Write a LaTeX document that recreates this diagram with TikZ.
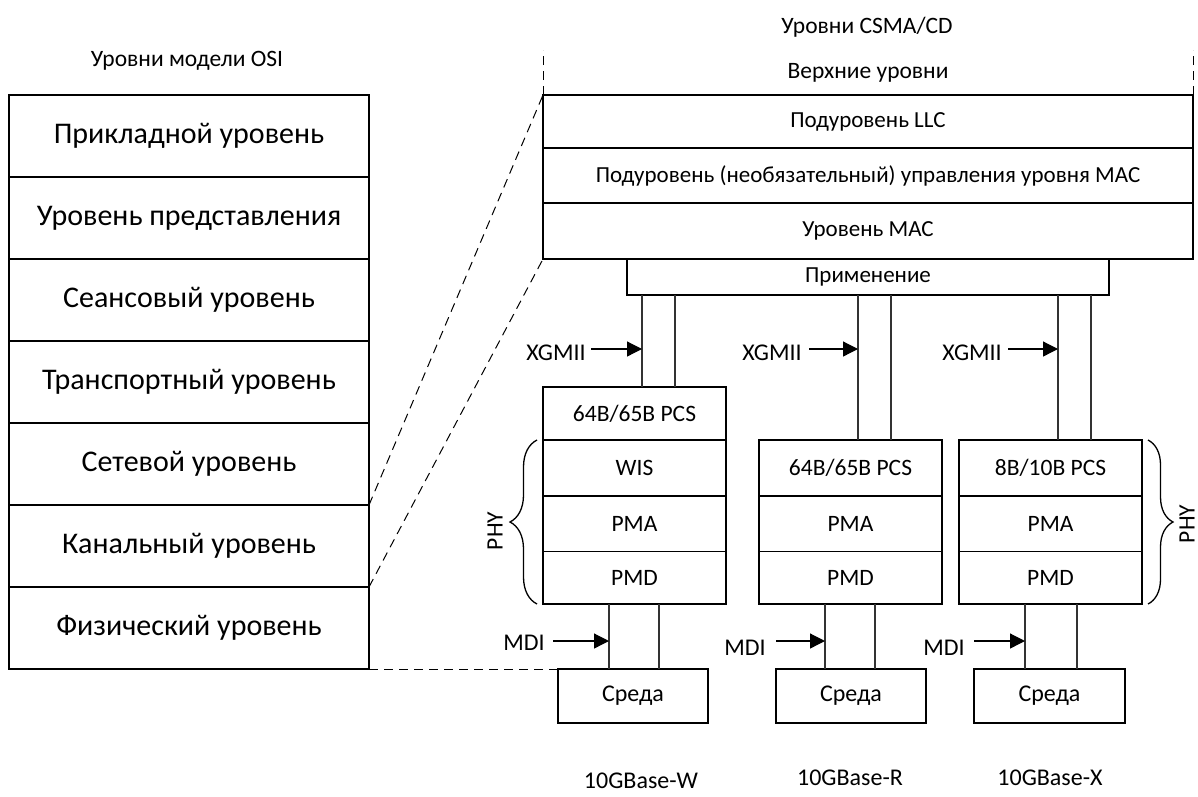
\documentclass[tikz,border=0pt]{standalone}
\usepackage{fontspec}
\setmainfont{Carlito}
\usetikzlibrary{arrows.meta,decorations.pathreplacing}
\begin{document}
\begin{tikzpicture}[x=1pt,y=-1pt,
  box/.style={draw, line width=1.2pt, inner sep=0pt, outer sep=0pt, align=center},
  osi/.style={box, minimum width=360pt, minimum height=82pt, font=\fontsize{30}{34}\selectfont},
  wide/.style={box, font=\fontsize{23}{27}\selectfont},
  blk/.style={box, minimum width=183pt, font=\fontsize{23.5}{27}\selectfont},
  media/.style={box, minimum width=150pt, minimum height=54pt, font=\fontsize{24}{28}\selectfont},
  lbl/.style={inner sep=0pt, font=\fontsize{24}{28}\selectfont},
  title/.style={inner sep=0pt, font=\fontsize{23.5}{27}\selectfont},
  wire/.style={line width=1.2pt, black!80},
  guide/.style={line width=1pt, dash pattern=on 9pt off 6pt},
  iface/.style={line width=1.2pt, -{Triangle[length=15pt,width=15pt]}},
  phybrace/.style={line width=1.3pt, decorate, decoration={brace, amplitude=#1}}
]
\useasboundingbox (0,0) rectangle (1198,796);

% OSI reference model
\node[title] (osititle) at (187,61) {Уровни модели OSI};
\node[osi] (app)  at (189,136) {Прикладной уровень};
\node[osi] (pres) at (189,218) {Уровень представления};
\node[osi] (sess) at (189,300) {Сеансовый уровень};
\node[osi] (tran) at (189,382) {Транспортный уровень};
\node[osi] (netw) at (189,464) {Сетевой уровень};
\node[osi] (link) at (189,546) {Канальный уровень};
\node[osi] (phys) at (189,628) {Физический уровень};

% CSMA/CD layers
\node[title] (csmatitle) at (867,27) {Уровни CSMA/CD};
\node[title] (upper) at (868,73) {Верхние уровни};
\node[wide, minimum width=650pt, minimum height=53pt] (llc)  at (868,121.5) {Подуровень LLC};
\node[wide, minimum width=650pt, minimum height=55pt] (macc) at (868,175.5) {Подуровень (необязательный) управления уровня MAC};
\node[wide, minimum width=650pt, minimum height=56pt] (mac)  at (868,231) {Уровень MAC};
\node[wide, minimum width=482pt, minimum height=36pt] (rs)   at (868,277) {Применение};
\draw[guide] (llc.north west) -- ++(0,-45);
\draw[guide] (llc.north east) -- ++(0,-45);

% 10GBase-W stack
\node[blk, minimum height=53pt]   (pcsw) at (634.5,413.5) {64B/65B PCS};
\node[blk, minimum height=56pt]   (wis)  at (634.5,468) {WIS};
\node[blk, minimum height=55.5pt] (pmaw) at (634.5,523.75) {PMA};
\node[blk, minimum height=52.5pt] (pmdw) at (634.5,577.75) {PMD};
% 10GBase-R stack
\node[blk, minimum height=56pt]   (pcsr) at (850.5,468) {64B/65B PCS};
\node[blk, minimum height=55.5pt] (pmar) at (850.5,523.75) {PMA};
\node[blk, minimum height=52.5pt] (pmdr) at (850.5,577.75) {PMD};
% 10GBase-X stack
\node[blk, minimum height=56pt]   (pcsx) at (1050.5,468) {8B/10B PCS};
\node[blk, minimum height=55.5pt] (pmax) at (1050.5,523.75) {PMA};
\node[blk, minimum height=52.5pt] (pmdx) at (1050.5,577.75) {PMD};

% media
\node[media] (medw) at (633,696) {Среда};
\node[media] (medr) at (851,696) {Среда};
\node[media, minimum width=151pt] (medx) at (1049.5,696) {Среда};

% XGMII buses
\foreach \xa/\blkn in {642/pcsw, 675/pcsw, 858/pcsr, 891/pcsr, 1058/pcsx, 1091/pcsx}
  \draw[wire] (\xa,0 |- rs.south) -- (\xa,0 |- \blkn.north);
% MDI links
\foreach \xa/\src/\dst in {609/pmdw/medw, 659/pmdw/medw, 825/pmdr/medr, 875/pmdr/medr, 1025/pmdx/medx, 1077/pmdx/medx}
  \draw[wire] (\xa,0 |- \src.south) -- (\xa,0 |- \dst.north);

% interface labels
\node[lbl] (xg1) at (556,353) {XGMII};
\node[lbl] (xg2) at (772,353) {XGMII};
\node[lbl] (xg3) at (972,353) {XGMII};
\coordinate (xg1t) at (642,349);
\coordinate (xg2t) at (858,349);
\coordinate (xg3t) at (1058,349);
\draw[iface] (591,349) -- (xg1t);
\draw[iface] (809,349) -- (xg2t);
\draw[iface] (1008,349) -- (xg3t);

\node[lbl] (mdi1) at (524,643) {MDI};
\node[lbl] (mdi2) at (745,648) {MDI};
\node[lbl] (mdi3) at (944,648) {MDI};
\coordinate (mdi1t) at (609,641);
\coordinate (mdi2t) at (825,641);
\coordinate (mdi3t) at (1025,641);
\draw[iface] (553,641) -- (mdi1t);
\draw[iface] (776,641) -- (mdi2t);
\draw[iface] (974,641) -- (mdi3t);

% PHY braces
\draw[phybrace=27pt] (pmdw.south west) ++(-6,0) -- ([xshift=-6pt]wis.north west);
\draw[phybrace=25pt] ([xshift=6pt]pcsx.north east) -- ([xshift=6pt]pmdx.south east);
\node[title, rotate=90] (phyl) at (495,531) {PHY};
\node[title, rotate=90] (phyr) at (1187,524) {PHY};

% mapping guides between the two models
\draw[guide] (netw.south east) -- (llc.north west);
\draw[guide] (link.south east) -- (mac.south west);
\draw[guide] (phys.south east) -- (medw.north west);

% variant names
\node[lbl] (nw) at (641,781) {10GBase-W};
\node[lbl] (nr) at (850,778) {10GBase-R};
\node[lbl] (nx) at (1050,778) {10GBase-X};
\end{tikzpicture}
\end{document}
